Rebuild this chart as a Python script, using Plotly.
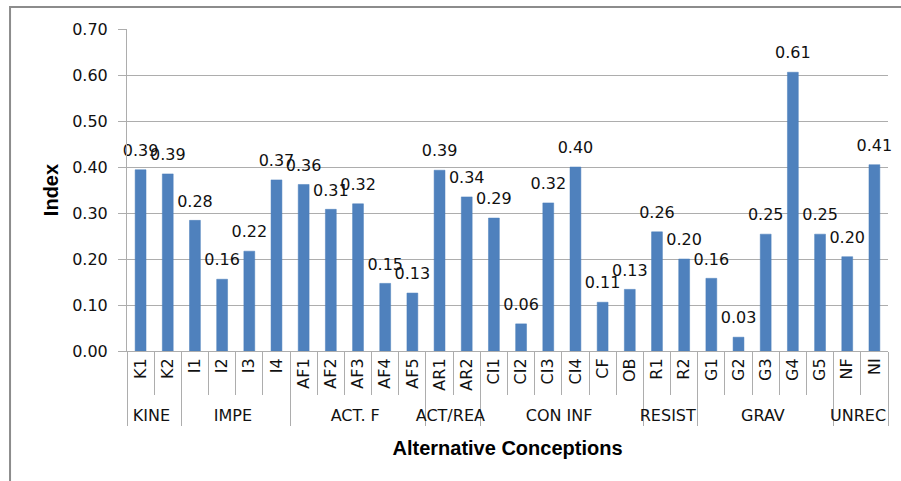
import plotly.graph_objects as go

groups = ["KINE", "KINE", "IMPE", "IMPE", "IMPE", "IMPE",
          "ACT. F", "ACT. F", "ACT. F", "ACT. F", "ACT. F",
          "ACT/REA", "ACT/REA",
          "CON INF", "CON INF", "CON INF", "CON INF", "CON INF", "CON INF",
          "RESIST", "RESIST",
          "GRAV", "GRAV", "GRAV", "GRAV", "GRAV",
          "UNREC", "UNREC"]
categories = ["K1", "K2", "I1", "I2", "I3", "I4",
              "AF1", "AF2", "AF3", "AF4", "AF5",
              "AR1", "AR2",
              "CI1", "CI2", "CI3", "CI4", "CF", "OB",
              "R1", "R2",
              "G1", "G2", "G3", "G4", "G5",
              "NF", "NI"]
values = [0.394, 0.385, 0.284, 0.156, 0.217, 0.372,
          0.362, 0.308, 0.320, 0.147, 0.126,
          0.393, 0.335,
          0.289, 0.059, 0.322, 0.400, 0.106, 0.134,
          0.259, 0.200,
          0.158, 0.030, 0.254, 0.606, 0.254,
          0.205, 0.405]
labels = [f"{v:.2f}" for v in values]
y_ticks = [0.0, 0.1, 0.2, 0.3, 0.4, 0.5, 0.6, 0.7]

FONT = "DejaVu Sans"
GRID = "#ADADAD"

fig = go.Figure()
fig.add_trace(go.Bar(
    x=[groups, categories], y=values,
    marker=dict(color="#4F81BD", line=dict(color="#4A7EBB", width=0.5)),
    width=0.4, hoverinfo="skip",
))
fig.add_trace(go.Scatter(
    x=[groups, categories], y=values, text=labels,
    mode="markers+text", textposition="top center",
    marker=dict(size=14, opacity=0),
    textfont=dict(family=FONT, size=16, color="#111111"),
    cliponaxis=False, hoverinfo="skip",
))

fig.update_layout(
    width=901, height=481,
    margin=dict(l=127, r=13, t=29, b=130),
    plot_bgcolor="white", paper_bgcolor="white",
    showlegend=False,
    font=dict(family=FONT, color="#111111"),
    xaxis=dict(
        type="multicategory",
        range=[-0.5, len(categories) - 0.5],
        automargin=False,
        tickangle=-90,
        tickfont=dict(family=FONT, size=16, color="#111111"),
        ticks="outside", tickson="boundaries", ticklen=43, tickcolor=GRID,
        showdividers=True, dividercolor=GRID, dividerwidth=1,
        showline=True, linecolor=GRID, linewidth=1,
        showgrid=False,
        title=dict(text="<b>Alternative Conceptions</b>",
                   font=dict(family="Liberation Sans", size=20, color="#000000"),
                   standoff=16),
    ),
    yaxis=dict(
        range=[0, 0.7], tickvals=y_ticks, tickformat=".2f",
        automargin=False,
        tickfont=dict(family=FONT, size=16, color="#111111"),
        ticks="outside", ticklen=8, tickcolor=GRID,
        ticklabelstandoff=7,
        showgrid=True, gridcolor=GRID, gridwidth=1,
        showline=True, linecolor=GRID, linewidth=1,
        zeroline=False,
        title=dict(text="<b>Index</b>",
                   font=dict(family="Liberation Sans", size=20, color="#000000"),
                   standoff=8),
    ),
    shapes=[dict(type="path", xref="paper", yref="paper",
                 path="M 1.2,1.068 L -0.1537,1.068 L -0.1537,-0.6",
                 line=dict(color="#8C8C8C", width=2))],
)

fig.write_html("out.html", config={"displayModeBar": False},
               post_script="document.body.style.margin='0';")
